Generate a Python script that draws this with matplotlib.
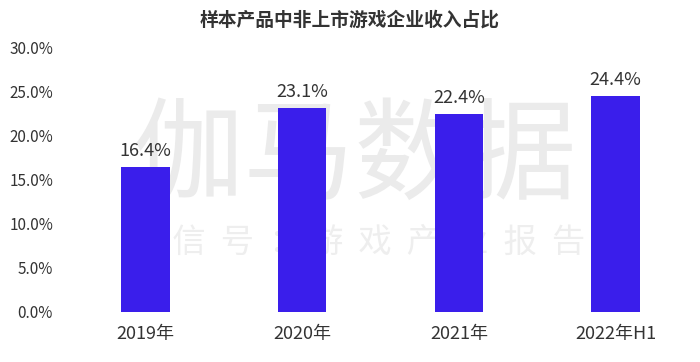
import matplotlib.pyplot as plt
from matplotlib.ticker import FuncFormatter

plt.rcParams['font.family'] = ['Noto Sans CJK SC', 'DejaVu Sans']

# data
years = ['2019年', '2020年', '2021年', '2022年H1']
share = [16.4, 23.1, 22.4, 24.4]

bar_color = '#3A1EEB'
text_color = '#333333'

fig = plt.figure(figsize=(7, 3.62), dpi=100)
ax = fig.add_axes([67/700, 1 - 312/362, 627/700, 265/362])
ax.set_zorder(1)
ax.patch.set_alpha(0)

# watermark behind the bars
fig.text(0.507, 0.56, '伽马数据', fontsize=80, color='#ebebeb', ha='center', va='center',
         zorder=0)
fig.text(0.507, 0.33, '微  信  号  ： 游  戏  产  业  报  告', fontsize=24, color='#eeeeee',
         ha='center', va='center', zorder=0)

x = range(len(years))
bars = ax.bar(x, share, width=0.31, color=bar_color, zorder=2)
for b, v in zip(bars, share):
    ax.text(b.get_x() + b.get_width() / 2, v + 0.8, '%.1f%%' % v,
            ha='center', va='bottom', fontsize=13, color=text_color, zorder=3)

ax.set_xlim(-0.5, 3.5)
ax.set_ylim(0, 30)
ax.set_yticks([0, 5, 10, 15, 20, 25, 30])
ax.yaxis.set_major_formatter(FuncFormatter(lambda v, p: '%.1f%%' % v))
ax.set_xticks(list(x))
ax.set_xticklabels(years)

for s in ax.spines.values():
    s.set_visible(False)
ax.tick_params(axis='both', length=0, colors=text_color)
ax.tick_params(axis='y', labelsize=11, pad=10)
ax.tick_params(axis='x', labelsize=13, pad=9)

fig.text(0.5, 0.945, '样本产品中非上市游戏企业收入占比', fontsize=13.5, fontweight='bold',
         color='#333333', ha='center', va='center')

fig.savefig('out.png', dpi=100)
